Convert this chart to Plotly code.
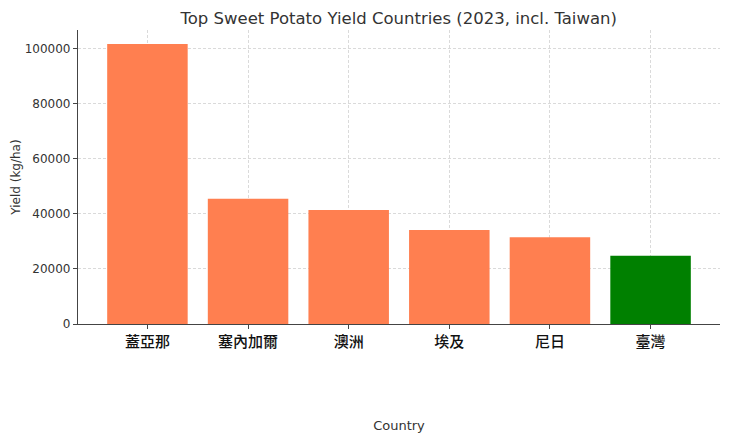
import plotly.graph_objects as go

# 2023 sweet potato yield, kg/ha
countries = ["蓋亞那", "塞內加爾", "澳洲", "埃及", "尼日", "臺灣"]
yields = [101600, 45500, 41400, 34100, 31500, 24800]
bar_colors = ["#FF7F50", "#FF7F50", "#FF7F50", "#FF7F50", "#FF7F50", "#008000"]

fig = go.Figure(
    go.Bar(
        x=countries,
        y=yields,
        marker=dict(color=bar_colors, line=dict(width=0)),
        width=0.8,
    )
)

grid = dict(
    showgrid=True,
    gridcolor="rgba(150,150,150,0.35)",
    griddash="3px,2px",
    gridwidth=1,
    layer="above traces",
    automargin=False,
)

# page body has an 8px default margin, so margins are shifted to compensate
fig.update_layout(
    width=740,
    height=444,
    margin=dict(l=70, r=28, t=22, b=128),
    paper_bgcolor="white",
    plot_bgcolor="white",
    font=dict(family="DejaVu Sans", color="#333333", size=12),
    showlegend=False,
    title=dict(
        text="Top Sweet Potato Yield Countries (2023, incl. Taiwan)",
        x=0.528,
        xanchor="center",
        y=0.977,
        yref="container",
        yanchor="middle",
        font=dict(size=16.5, color="#333333"),
    ),
    xaxis=dict(
        range=[-0.69, 5.69],
        showline=True,
        linecolor="#444444",
        linewidth=1.2,
        ticks="outside",
        ticklen=4,
        tickcolor="#444444",
        tickfont=dict(family="Noto Sans CJK TC", size=15, color="#111111", weight=500),
        title=dict(text="Country", standoff=70, font=dict(size=13)),
        **grid,
    ),
    yaxis=dict(
        range=[0, 106700],
        tickvals=[0, 20000, 40000, 60000, 80000, 100000],
        ticktext=["0", "20000", "40000", "60000", "80000", "100000"],
        showline=True,
        linecolor="#444444",
        linewidth=1.2,
        ticks="outside",
        ticklen=4,
        tickcolor="#444444",
        tickfont=dict(size=12),
        zeroline=False,
        title=dict(text="Yield (kg/ha)", standoff=1, font=dict(size=12)),
        **grid,
    ),
)

fig.write_html("out.html")
